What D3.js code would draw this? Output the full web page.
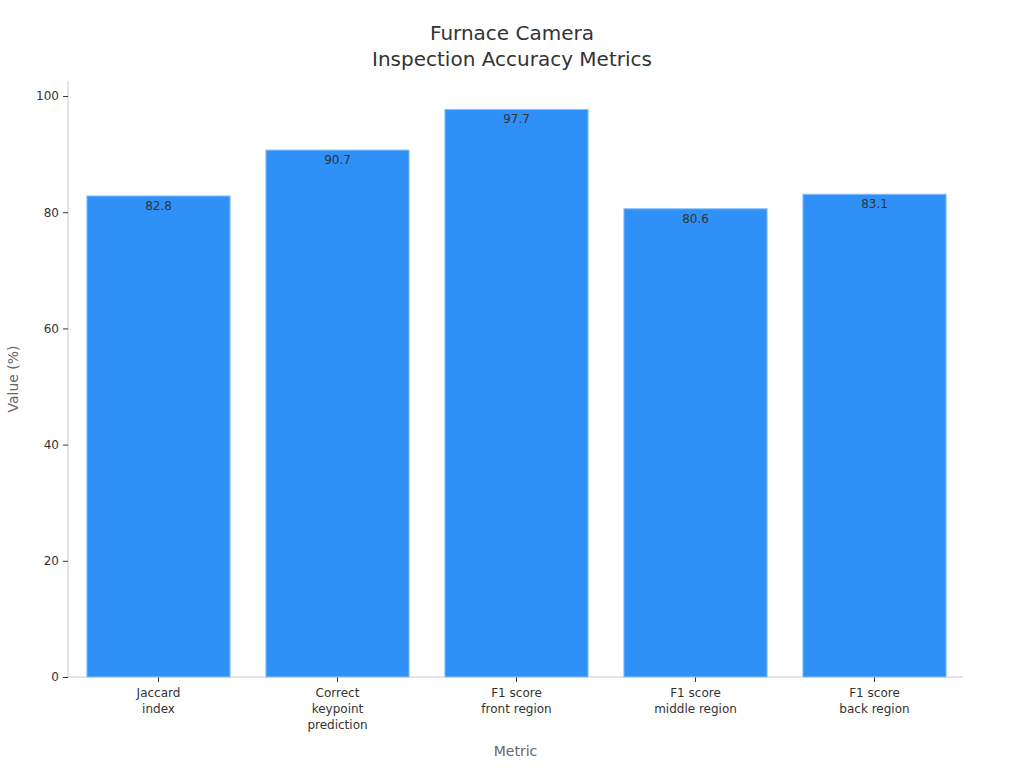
<!DOCTYPE html>
<html>
<head>
<meta charset="utf-8">
<script src="https://cdn.jsdelivr.net/npm/d3@7"></script>
<style>
  body { margin: 0; background: #fff; }
  text { font-family: "DejaVu Sans", sans-serif; }
</style>
</head>
<body>
<div id="chart-area"></div>
<script>
// data
var metrics = [
    ["Jaccard", "index"],
    ["Correct", "keypoint", "prediction"],
    ["F1 score", "front region"],
    ["F1 score", "middle region"],
    ["F1 score", "back region"]
];
var values = [82.8, 90.7, 97.7, 80.6, 83.1];
var yTicks = [0, 20, 40, 60, 80, 100];

var canvasWidth = 1024;
var canvasHeight = 768;
var margin = { left: 68, right: 61, top: 81, bottom: 91 };
var width = canvasWidth - margin.left - margin.right;
var height = canvasHeight - margin.top - margin.bottom;

var svg = d3.select("#chart-area")
    .append("svg")
        .attr("width", canvasWidth)
        .attr("height", canvasHeight);

// title
svg.append("text")
    .attr("x", canvasWidth / 2)
    .attr("y", 40)
    .attr("text-anchor", "middle")
    .attr("font-size", "20px")
    .attr("fill", "#333")
    .text("Furnace Camera");
svg.append("text")
    .attr("x", canvasWidth / 2)
    .attr("y", 66)
    .attr("text-anchor", "middle")
    .attr("font-size", "20px")
    .attr("fill", "#333")
    .text("Inspection Accuracy Metrics");

var g = svg.append("g")
    .attr("transform", `translate(${margin.left},${margin.top})`);

var x = d3.scaleBand()
    .domain(d3.range(values.length))
    .range([1, width + 1])
    .paddingInner(0.2)
    .paddingOuter(0.1);

var y = d3.scaleLinear()
    .domain([0, d3.max(values) * 1.05])
    .range([height, 0]);

// X axis
var xAxis = g.append("g")
    .attr("class", "x axis")
    .attr("transform", `translate(0,${height})`)
    .call(d3.axisBottom(x).tickSize(5).tickFormat(""));
xAxis.select(".domain").attr("stroke", "#ccc").attr("d", `M0,0H${width}`);
xAxis.selectAll(".tick line").attr("stroke", "#333");
xAxis.selectAll(".tick").each(function(d) {
    var t = d3.select(this).append("text")
        .attr("fill", "#333")
        .attr("font-size", "12px")
        .attr("text-anchor", "middle")
        .attr("y", 20);
    metrics[d].forEach((line, i) => {
        t.append("tspan")
            .attr("x", 0)
            .attr("dy", i === 0 ? 0 : 16)
            .text(line);
    });
});

// Y axis
var yAxis = g.append("g")
    .attr("class", "y axis")
    .call(d3.axisLeft(y).tickValues(yTicks).tickSize(5).tickPadding(4));
yAxis.select(".domain").attr("stroke", "#ccc").attr("d", `M0,${height}V0`);
yAxis.selectAll(".tick line").attr("stroke", "#333");
yAxis.selectAll(".tick text")
    .attr("fill", "#333")
    .attr("font-size", "12px")
    .attr("font-family", "DejaVu Sans, sans-serif");

// Labels
g.append("text")
    .attr("x", width / 2)
    .attr("y", height + 79)
    .attr("font-size", "14px")
    .attr("fill", "#666")
    .attr("text-anchor", "middle")
    .text("Metric");

g.append("text")
    .attr("x", -(height / 2))
    .attr("y", -50)
    .attr("font-size", "14px")
    .attr("fill", "#666")
    .attr("text-anchor", "middle")
    .attr("transform", "rotate(-90)")
    .text("Value (%)");

// bars
g.selectAll("rect.bar")
    .data(values)
    .enter()
    .append("rect")
        .attr("class", "bar")
        .attr("x", (d, i) => x(i))
        .attr("y", d => y(d))
        .attr("width", x.bandwidth())
        .attr("height", d => height - y(d))
        .attr("fill", "#2f91f7")
        .attr("stroke", "#8cc3fa")
        .attr("stroke-width", 1);

g.selectAll("text.value")
    .data(values)
    .enter()
    .append("text")
        .attr("class", "value")
        .attr("x", (d, i) => x(i) + x.bandwidth() / 2)
        .attr("y", d => y(d) + 14)
        .attr("text-anchor", "middle")
        .attr("font-size", "12px")
        .attr("fill", "#333")
        .text(d => d.toFixed(1));
</script>
</body>
</html>
